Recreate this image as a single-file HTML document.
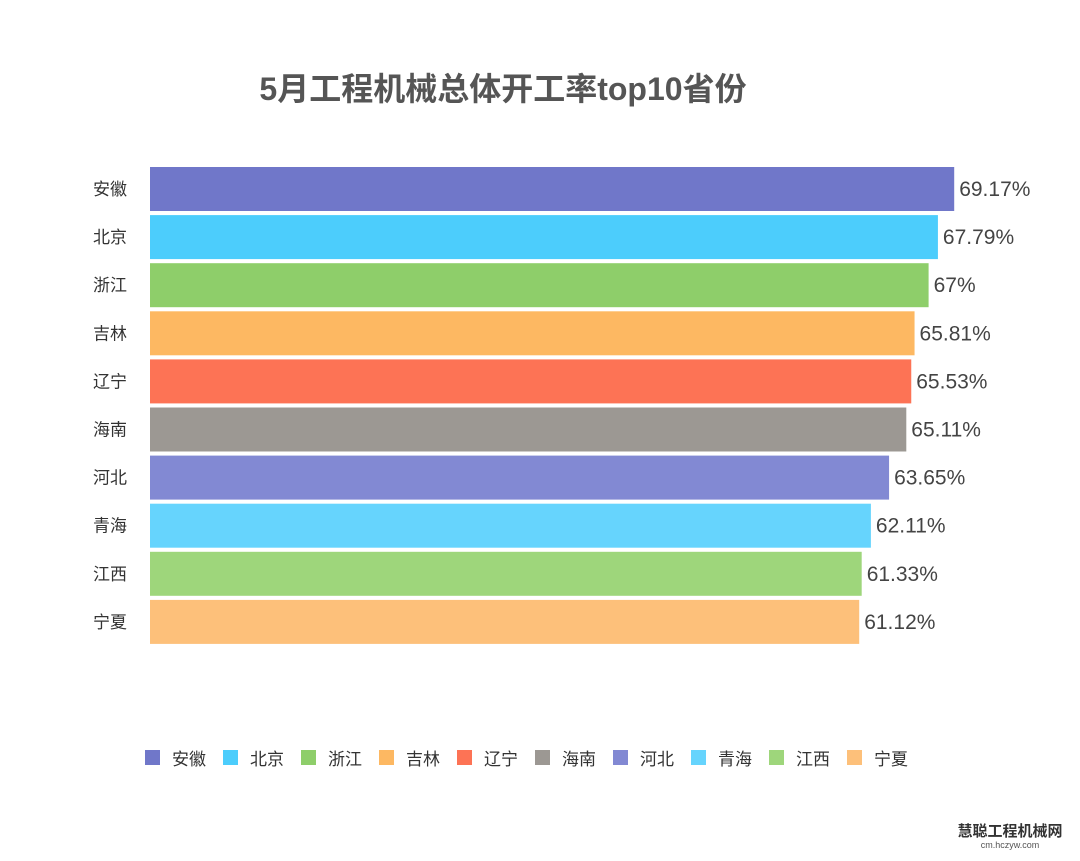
<!DOCTYPE html>
<html><head><meta charset="utf-8">
<style>
body{margin:0;background:#fff;}
svg text{font-family:"Liberation Sans","Noto Sans CJK SC",sans-serif;}
</style></head>
<body>
<svg id="chart" width="1080" height="856" xmlns="http://www.w3.org/2000/svg">
<text x="503" y="100" text-anchor="middle" font-size="32" font-weight="bold" fill="#555">5月工程机械总体开工率top10省份</text>
<g id="bars"></g>
<g id="legend"></g>
<text x="1010" y="836" text-anchor="middle" font-size="15" font-weight="bold" fill="#333">慧聪工程机械网</text>
<text x="1010" y="848" text-anchor="middle" font-size="9" fill="#555">cm.hczyw.com</text>
</svg>
<script>
const categories=["安徽","北京","浙江","吉林","辽宁","海南","河北","青海","江西","宁夏"];
const values=[69.17,67.79,67,65.81,65.53,65.11,63.65,62.11,61.33,61.12];
const valueLabels=["69.17%","67.79%","67%","65.81%","65.53%","65.11%","63.65%","62.11%","61.33%","61.12%"];
const colors=["#7077c9","#4ccdfc","#8ece6a","#fdb862","#fd7355","#9c9893","#8289d3","#66d4fd","#9ed67b","#fdc07a"];
const NS="http://www.w3.org/2000/svg";
const xScale=v=>138+v*11.8;
const yScale=i=>167+i*48.1;
const bars=document.getElementById('bars');
function mk(tag,attrs,parent){const e=document.createElementNS(NS,tag);for(const k in attrs)e.setAttribute(k,attrs[k]);parent.appendChild(e);return e;}
categories.forEach((c,i)=>{
  const y=yScale(i);
  const r=mk('rect',{x:150,y:y,width:xScale(values[i])-150,height:44,fill:colors[i]},bars);
  
  
  const t=mk('text',{x:110,y:y+28,'text-anchor':'middle','font-size':17,fill:'#333'},bars);
  t.textContent=c;
  
  
  const v=mk('text',{x:xScale(values[i])+5,y:y+29,'font-size':21,fill:'#444'},bars);
  v.textContent=valueLabels[i];
  
  
});
const lg=document.getElementById('legend');
categories.forEach((c,i)=>{
  const x=145+i*78;
  const g=mk('g',{},lg);
  
  
  mk('rect',{x:x,y:750,width:15,height:15,fill:colors[i]},g);
  const t=mk('text',{x:x+27,y:765,'font-size':17,fill:'#333'},g);
  t.textContent=c;
});
</script>
</body></html>
